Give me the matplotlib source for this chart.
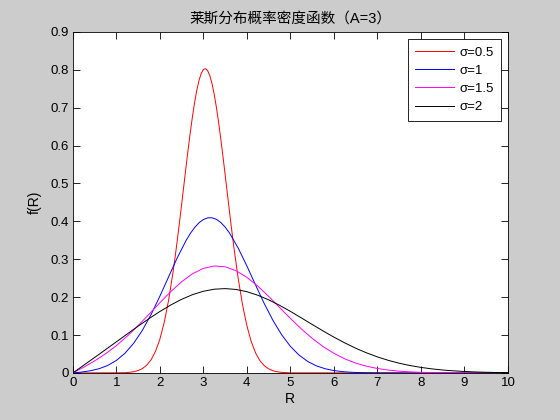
import matplotlib
matplotlib.use('Agg')
import matplotlib.pyplot as plt
from matplotlib.ticker import FuncFormatter

plt.rcParams['font.family'] = ['Liberation Sans', 'Noto Sans CJK SC', 'DejaVu Sans']

# 莱斯分布, A=3, 各条曲线的点
r_05 = [0, 1.2, 1.3, 1.4, 1.5, 1.6, 1.7, 1.8, 1.9, 2.0, 2.1, 2.2, 2.3, 2.35, 2.4, 2.45,
        2.5, 2.55, 2.6, 2.65, 2.7, 2.75, 2.8, 2.85, 2.9, 2.95, 3.0, 3.05, 3.1, 3.15, 3.2,
        3.25, 3.3, 3.35, 3.4, 3.45, 3.5, 3.55, 3.6, 3.65, 3.7, 3.8, 3.9, 4.0, 4.1, 4.2,
        4.3, 4.4, 4.5, 4.6, 4.7, 4.8, 5.0, 10]
f_05 = [0, 0.0006, 0.0016, 0.0033, 0.0063, 0.0116, 0.0206, 0.0349, 0.0568, 0.0886, 0.1328,
        0.1909, 0.2634, 0.3047, 0.3489, 0.3954, 0.4436, 0.4927, 0.5416, 0.5893, 0.6347,
        0.6767, 0.7142, 0.7462, 0.7717, 0.7900, 0.8007, 0.8032, 0.7977, 0.7842, 0.7632,
        0.7352, 0.7012, 0.6620, 0.6187, 0.5724, 0.5243, 0.4753, 0.4267, 0.3791, 0.3335,
        0.2503, 0.1805, 0.1250, 0.0831, 0.0531, 0.0326, 0.0192, 0.0109, 0.0059, 0.0031,
        0.0015, 0.0003, 0]

r_1 = [0, 0.2, 0.4, 0.6, 0.8, 1.0, 1.2, 1.4, 1.6, 1.8, 2.0, 2.2, 2.4, 2.6, 2.7, 2.8, 2.9,
       3.0, 3.1, 3.2, 3.3, 3.4, 3.5, 3.6, 3.8, 4.0, 4.2, 4.4, 4.6, 4.8, 5.0, 5.2, 5.4,
       5.6, 5.8, 6.0, 6.2, 6.4, 6.6, 6.8, 7.0, 7.5, 10]
f_1 = [0, 0.0024, 0.0057, 0.0111, 0.0197, 0.0329, 0.0521, 0.0785, 0.1127, 0.1544, 0.2022,
       0.2533, 0.3037, 0.3488, 0.3679, 0.3838, 0.3963, 0.4049, 0.4093, 0.4095, 0.4054,
       0.3972, 0.3851, 0.3695, 0.3298, 0.2825, 0.2322, 0.1831, 0.1387, 0.1008, 0.0703,
       0.0471, 0.0303, 0.0187, 0.0111, 0.0063, 0.0035, 0.0018, 0.0009, 0.0004, 0.0002,
       0, 0]

r_15 = [0, 0.25, 0.5, 0.75, 1.0, 1.25, 1.5, 1.75, 2.0, 2.25, 2.5, 2.75, 3.0, 3.25, 3.5,
        3.75, 4.0, 4.25, 4.5, 4.75, 5.0, 5.25, 5.5, 5.75, 6.0, 6.25, 6.5, 6.75, 7.0, 7.25,
        7.5, 7.75, 8.0, 8.5, 9.0, 10]
f_15 = [0, 0.0152, 0.0317, 0.0504, 0.0721, 0.0971, 0.1248, 0.1546, 0.1851, 0.2145, 0.2406,
        0.2617, 0.2760, 0.2823, 0.2802, 0.2699, 0.2525, 0.2293, 0.2022, 0.1732, 0.1441,
        0.1165, 0.0915, 0.0698, 0.0518, 0.0373, 0.0261, 0.0178, 0.0118, 0.0076, 0.0047,
        0.0029, 0.0017, 0.0005, 0.0002, 0]

r_2 = [0, 0.25, 0.5, 0.75, 1.0, 1.25, 1.5, 1.75, 2.0, 2.25, 2.5, 2.75, 3.0, 3.25, 3.5,
       3.75, 4.0, 4.25, 4.5, 4.75, 5.0, 5.25, 5.5, 5.75, 6.0, 6.25, 6.5, 6.75, 7.0, 7.25,
       7.5, 7.75, 8.0, 8.25, 8.5, 8.75, 9.0, 9.25, 9.5, 9.75, 10]
f_2 = [0, 0.0203, 0.0407, 0.0613, 0.0821, 0.1028, 0.1234, 0.1433, 0.1621, 0.1793, 0.1943,
       0.2066, 0.2156, 0.2210, 0.2226, 0.2204, 0.2145, 0.2052, 0.1931, 0.1787, 0.1626,
       0.1455, 0.1281, 0.1110, 0.0946, 0.0793, 0.0654, 0.0531, 0.0424, 0.0333, 0.0257,
       0.0196, 0.0147, 0.0108, 0.0078, 0.0056, 0.0039, 0.0027, 0.0018, 0.0012, 0.0008]

labels = ['σ=0.5', 'σ=1', 'σ=1.5', 'σ=2']
colors = ['#ff0000', '#0000ff', '#ff00ff', '#000000']

fig = plt.figure(figsize=(5.6, 4.2), dpi=100, facecolor='#cccccc')
ax = fig.add_axes([0.13, 0.112, 0.777, 0.812])

for r, f, lab, c in zip([r_05, r_1, r_15, r_2], [f_05, f_1, f_15, f_2], labels, colors):
    ax.plot(r, f, color=c, lw=0.7, label=lab)

ax.set_xlim(0, 10)
ax.set_ylim(0, 0.9)
ax.set_xticks(range(0, 11))
ax.set_yticks([i / 10 for i in range(10)])
ax.yaxis.set_major_formatter(FuncFormatter(lambda v, p: '0' if v == 0 else f'{v:.1f}'))
ax.tick_params(direction='in', length=5, width=0.6, labelsize=9.5, pad=3,
               top=True, right=True)
for s in ax.spines.values():
    s.set_linewidth(0.6)

ax.set_title('莱斯分布概率密度函数（A=3）', fontsize=10.5, pad=7)
ax.set_xlabel('R', fontsize=10, labelpad=2)
ax.set_ylabel('f(R)', fontsize=10, labelpad=6)

leg = ax.legend(loc='upper right', fontsize=9.5, fancybox=False, edgecolor='black',
                framealpha=1, handlelength=2.9, handletextpad=0.4, labelspacing=0.45,
                borderaxespad=0.5, borderpad=0.6)
leg.get_frame().set_linewidth(0.6)

fig.savefig('out.png', dpi=100, facecolor=fig.get_facecolor())
